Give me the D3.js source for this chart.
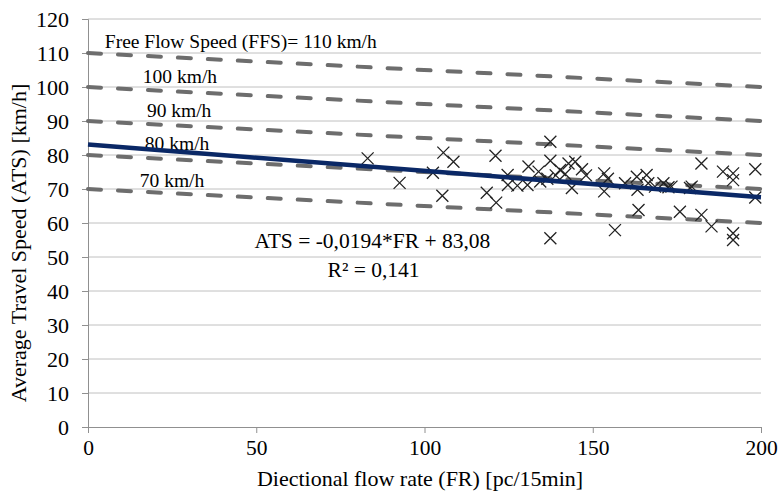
<!DOCTYPE html>
<html>
<head>
<meta charset="utf-8">
<script src="https://cdn.jsdelivr.net/npm/d3@7"></script>
<style>
  body { margin: 0; background: #fff; }
  svg text { font-family: "Liberation Serif", "Times New Roman", "DejaVu Serif", serif !important; fill: #000; }
</style>
</head>
<body>
<div id="chart"></div>
<script>
// Observed data (FR, ATS)
const flowRate = [83.1, 92.6, 102.5, 105.6, 108.6, 105.3, 118.5, 121.1, 121.3, 124.7, 124.8, 127.6,
  130.6, 130.9, 133.9, 134.4, 136.5, 137.4, 137.4, 137.4, 139.0, 140.3, 141.8, 142.8, 143.8, 144.8,
  146.8, 148.0, 153.4, 153.4, 154.5, 156.6, 159.6, 163.1, 163.3, 163.6, 166.0, 166.5, 168.5, 171.0,
  172.5, 173.4, 175.9, 178.9, 179.4, 182.3, 182.3, 185.3, 188.7, 191.7, 191.7, 191.7, 191.7, 198.3, 198.3];
const travelSpeed = [79.0, 71.8, 74.8, 80.7, 78.0, 68.0, 68.9, 79.8, 66.0, 74.1, 71.2, 71.0,
  71.2, 76.6, 75.1, 72.2, 73.0, 83.9, 78.3, 55.5, 74.0, 75.6, 74.4, 77.5, 70.3, 78.0,
  75.8, 74.0, 74.6, 69.3, 73.0, 57.9, 71.7, 73.6, 69.8, 63.8, 74.1, 71.7, 70.7, 71.7,
  70.5, 70.7, 63.3, 70.3, 70.7, 77.5, 62.4, 59.0, 75.1, 74.6, 72.6, 57.0, 55.0, 75.8, 67.5];

// Free flow speed reference lines: speed at FR=0 and FR=200
const ffsStart = [110, 100, 90, 80, 70];
const ffsEnd = [100, 90, 80, 70, 60];
const ffsLabels = ['Free Flow Speed (FFS)= 110 km/h', '100 km/h', '90 km/h', '80 km/h', '70 km/h'];
const ffsLabelX = [5, 16.3, 17.5, 16.9, 15.4];
const ffsLabelY = [111.5, 101.2, 91.2, 81.5, 70.6];

// Trend line endpoints as drawn
const trendX = [0, 200];
const trendY = [83.08, 67.6];

const xTicks = [0, 50, 100, 150, 200];
const yTicks = d3.range(0, 121, 10);

const width = 778, height = 493;
const margin = { top: 19, right: 17, bottom: 66, left: 88 };
const innerW = 761 - margin.left;
const innerH = 427 - margin.top;

const svg = d3.select('#chart').append('svg')
  .attr('width', width)
  .attr('height', height);

const g = svg.append('g')
  .attr('transform', `translate(${margin.left},${margin.top})`);

const x = d3.scaleLinear().domain([0, 200]).range([0, innerW]);
const y = d3.scaleLinear().domain([0, 120]).range([innerH, 0]);

// Gridlines
g.append('g')
  .selectAll('line')
  .data(yTicks.filter(d => d > 0))
  .enter()
  .append('line')
  .attr('x1', 0)
  .attr('x2', innerW)
  .attr('y1', d => y(d))
  .attr('y2', d => y(d))
  .attr('stroke', '#c0c0c0')
  .attr('stroke-width', 1);

// Y axis
const yAxis = g.append('g')
  .call(d3.axisLeft(y).tickValues(yTicks).tickSize(6).tickPadding(13));
yAxis.attr('font-family', null);
yAxis.select('.domain').attr('stroke', '#909090');
yAxis.selectAll('.tick line').attr('stroke', '#909090');
yAxis.selectAll('text')
  .attr('dy', '0.34em')
  .style('font-size', '22px');

// X axis
const xAxis = g.append('g')
  .attr('transform', `translate(0,${innerH})`)
  .call(d3.axisBottom(x).tickValues(xTicks).tickSize(6).tickPadding(7));
xAxis.attr('font-family', null);
xAxis.select('.domain').attr('stroke', '#909090');
xAxis.selectAll('.tick line').attr('stroke', '#909090');
xAxis.selectAll('text')
  .style('font-size', '21.5px');

// FFS dashed lines
g.append('g')
  .selectAll('line')
  .data(ffsStart)
  .enter()
  .append('line')
  .attr('x1', x(0))
  .attr('x2', x(200))
  .attr('y1', d => y(d))
  .attr('y2', (d, i) => y(ffsEnd[i]))
  .attr('stroke', '#6d6d6d')
  .attr('stroke-width', 4)
  .attr('stroke-dasharray', '13,17')
  .attr('stroke-linecap', 'round');

// FFS labels
g.append('g')
  .selectAll('text')
  .data(ffsLabels)
  .enter()
  .append('text')
  .attr('x', (d, i) => x(ffsLabelX[i]))
  .attr('y', (d, i) => y(ffsLabelY[i]))
  .style('font-size', '19.5px')
  .text(d => d);

// Scatter markers (x shapes)
const s = 6;
g.append('g')
  .selectAll('path')
  .data(flowRate)
  .enter()
  .append('path')
  .attr('d', (d, i) => {
    const cx = x(d), cy = y(travelSpeed[i]);
    return `M${cx - s},${cy - s}L${cx + s},${cy + s}M${cx - s},${cy + s}L${cx + s},${cy - s}`;
  })
  .attr('stroke', '#222')
  .attr('stroke-width', 1.3)
  .attr('fill', 'none');

// Trend line
g.append('line')
  .attr('x1', x(trendX[0]))
  .attr('x2', x(trendX[1]))
  .attr('y1', y(trendY[0]))
  .attr('y2', y(trendY[1]))
  .attr('stroke', '#0a2866')
  .attr('stroke-width', 4.5);

// Regression equation
g.append('text')
  .attr('x', x(49.5))
  .attr('y', y(52.6))
  .style('font-size', '21.5px')
  .text('ATS = -0,0194*FR + 83,08');
g.append('text')
  .attr('x', x(71.2))
  .attr('y', y(44.2))
  .style('font-size', '21.5px')
  .text('R² = 0,141');

// Axis titles
svg.append('text')
  .attr('x', 420)
  .attr('y', 486)
  .attr('text-anchor', 'middle')
  .style('font-size', '22px')
  .text('Diectional flow rate (FR) [pc/15min]');

svg.append('text')
  .attr('transform', `translate(26,${margin.top + innerH / 2 + 20}) rotate(-90)`)
  .attr('text-anchor', 'middle')
  .style('font-size', '22px')
  .text('Average Travel Speed (ATS) [km/h]');
</script>
</body>
</html>
